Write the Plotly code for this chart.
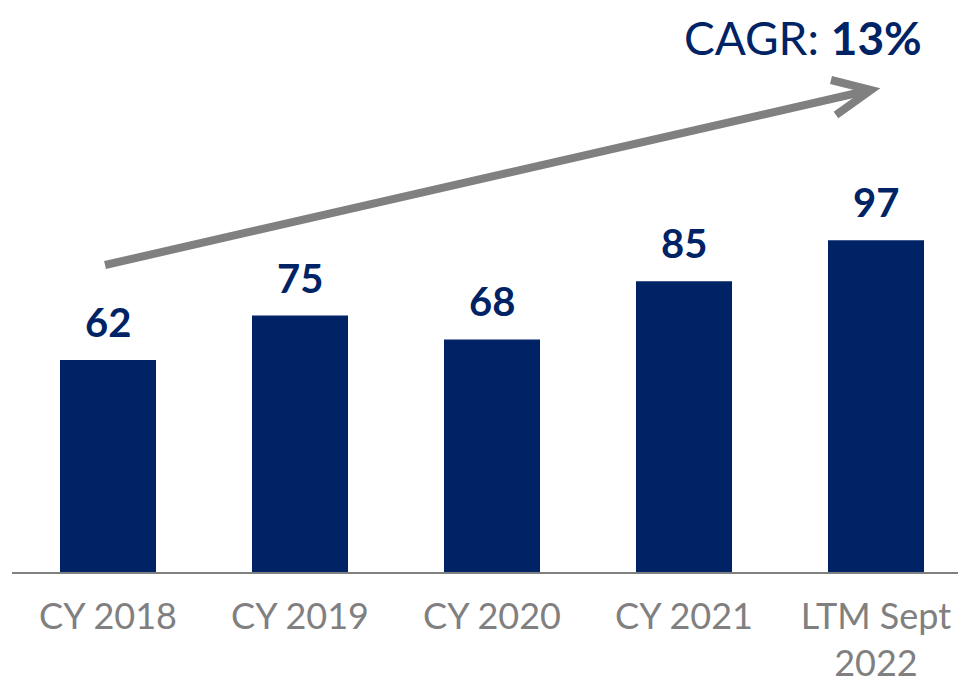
import plotly.graph_objects as go

categories = ["CY 2018", "CY 2019", "CY 2020", "CY 2021", "LTM Sept<br>2022"]
values = [62, 75, 68, 85, 97]
cagr_label = "13%"

NAVY = "#002366"
GRAY = "#808080"
FONT = "Lato"

OFF = 8  # page body margin
W, H = 966 - OFF, 684 - OFF
BASE = 572 - OFF  # axis line y in figure pixels
ML, MR, MT, MB = 12 - OFF, 0, 92, H - BASE
PW, PH = W - ML - MR, BASE - 92

def px(x):
    return (x - OFF - ML) / PW

def py(y):
    return (BASE - (y - OFF)) / PH

fig = go.Figure(go.Bar(
    x=list(range(len(categories))), y=values,
    marker=dict(color=NAVY, line=dict(width=0)),
    width=0.5,
))

for i, v in enumerate(values):
    fig.add_annotation(x=i, y=v, text=f"<b>{v}</b>", showarrow=False,
                       yanchor="bottom", yshift=12,
                       font=dict(family=FONT, size=40, color=NAVY))

fig.add_annotation(xref="paper", yref="paper", x=px(923), y=py(OFF + 1),
                   xanchor="right", yanchor="top", showarrow=False,
                   borderpad=0,
                   text=f"CAGR: <b>{cagr_label}</b>",
                   font=dict(family=FONT, size=46, color=NAVY))

# trend arrow
fig.add_shape(type="line", xref="paper", yref="paper",
              x0=px(105), y0=py(265), x1=px(866), y1=py(91),
              line=dict(color=GRAY, width=8))
fig.add_shape(type="path", xref="paper", yref="paper",
              path=f"M {px(831)} {py(80)} L {px(871)} {py(90)} L {px(836)} {py(115)}",
              line=dict(color=GRAY, width=8))

fig.update_layout(
    width=W, height=H,
    margin=dict(l=ML, r=MR, t=MT, b=MB),
    paper_bgcolor="white", plot_bgcolor="white",
    showlegend=False,
    xaxis=dict(tickmode="array", tickvals=list(range(len(categories))),
               ticktext=categories, range=[-0.5, PW / 192 - 0.5],
               showline=True, linecolor=GRAY, linewidth=2,
               showgrid=False, zeroline=False, ticks="",
               ticklabelstandoff=12,
               tickfont=dict(family=FONT, size=36, color=GRAY)),
    yaxis=dict(range=[0, PH / 3.42], visible=False, showgrid=False,
               zeroline=False),
)

fig.write_html("out.html")
